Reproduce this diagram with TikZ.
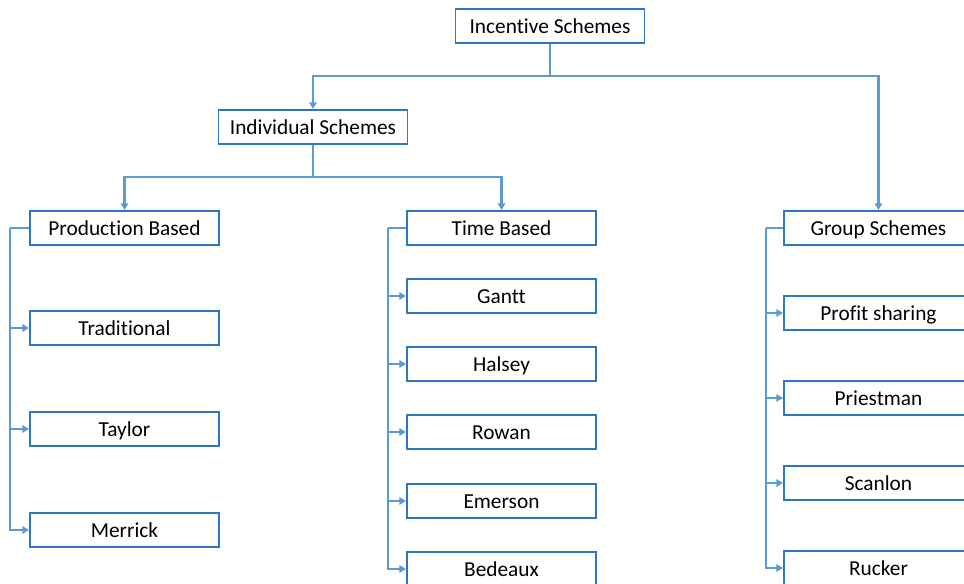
\documentclass[tikz,border=0pt]{standalone}
\usepackage{fontspec}
\setmainfont[Ligatures=NoCommon]{Carlito}
\usetikzlibrary{arrows.meta}
\definecolor{boxblue}{HTML}{2E75C0}
\definecolor{lineblue}{HTML}{5B9BD5}
\tikzset{scheme/.style={draw=boxblue,line width=1.4pt,fill=white,minimum width=141.75pt,minimum height=25.5pt,inner sep=0pt,text height=11.5pt,text depth=0pt,font=\fontsize{16}{18}\selectfont},
  link/.style={draw=lineblue,line width=1.7pt}}

\begin{document}
\begin{tikzpicture}[x=0.75pt,y=-0.75pt,>={Triangle[length=5pt,width=5.5pt]}]
  \useasboundingbox (0,0) rectangle (964,584);
  \clip (0,0) rectangle (964,584);

  \node[scheme] (I) at (550,26) {Incentive Schemes};
  \node[scheme] (IS) at (313,127) {Individual Schemes};
  \node[scheme] (P) at (124.5,228) {Production Based};
  \node[scheme] (P1) at (124.5,328) {Traditional};
  \node[scheme] (P2) at (124.5,429) {Taylor};
  \node[scheme] (P3) at (124.5,530) {Merrick};
  \node[scheme] (T) at (501.5,228) {Time Based};
  \node[scheme] (T1) at (501.5,296) {Gantt};
  \node[scheme] (T2) at (501.5,364) {Halsey};
  \node[scheme] (T3) at (501.5,432) {Rowan};
  \node[scheme] (T4) at (501.5,501) {Emerson};
  \node[scheme] (T5) at (501.5,569) {Bedeaux};
  \node[scheme] (G) at (878.5,228) {Group Schemes};
  \node[scheme] (G1) at (878.5,313) {Profit sharing};
  \node[scheme] (G2) at (878.5,398) {Priestman};
  \node[scheme] (G3) at (878.5,483) {Scanlon};
  \node[scheme] (G4) at (878.5,568) {Rucker};

  \coordinate (j1) at (550,76);
  \coordinate (j2) at (313,177);
  \coordinate (bp) at (10,228);
  \coordinate (bt) at (388,228);
  \coordinate (bg) at (766,228);

  % top levels
  \draw[link] (I) -- (j1);
  \draw[link,->] (j1) -| (IS);
  \draw[link,->] (j1) -| (G);
  \draw[link] (IS) -- (j2);
  \draw[link,->] (j2) -| (P);
  \draw[link,->] (j2) -| (T);

  % side buses
  \draw[link] (P) -- (bp);
  \draw[link,->] (bp) |- (P1);
  \draw[link,->] (bp) |- (P2);
  \draw[link,->] (bp) |- (P3);
  \draw[link] (T) -- (bt);
  \draw[link,->] (bt) |- (T1);
  \draw[link,->] (bt) |- (T2);
  \draw[link,->] (bt) |- (T3);
  \draw[link,->] (bt) |- (T4);
  \draw[link,->] (bt) |- (T5);
  \draw[link] (G) -- (bg);
  \draw[link,->] (bg) |- (G1);
  \draw[link,->] (bg) |- (G2);
  \draw[link,->] (bg) |- (G3);
  \draw[link,->] (bg) |- (G4);
\end{tikzpicture}
\end{document}
